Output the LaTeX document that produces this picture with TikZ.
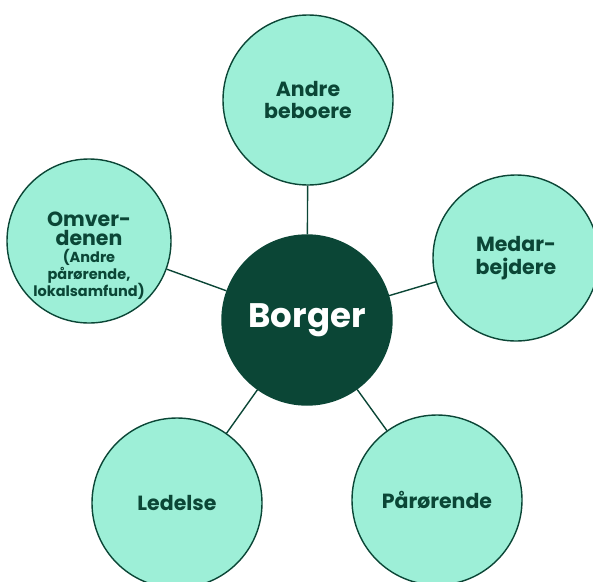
\documentclass[tikz,border=0pt]{standalone}
\usepackage{fontspec}
\setmainfont{Poppins}
\definecolor{mint}{HTML}{9DEFD7}
\definecolor{skov}{HTML}{0B4636}
\newcommand\lilleskrift{\fontsize{14.5}{15}\selectfont}
\tikzset{
  kreds/.style={circle, draw=skov, line width=1.4pt, fill=mint, minimum size=170pt,
    inner sep=0pt, align=center, text=skov, font=\bfseries\fontsize{20.5}{22.5}\selectfont},
  midte/.style={kreds, fill=skov, text=white, font=\bfseries\fontsize{34}{40}\selectfont},
  streg/.style={draw=skov, line width=1.4pt}
}
\begin{document}
\begin{tikzpicture}[x=1pt, y=-1pt]
  \useasboundingbox (0,0) rectangle (593,581);

  % Borgeren i midten
  \node[midte] (borger) at (307,320) {Borger};

  % Kredsene rundt om
  \node[kreds] (beboere) at (308,100) {Andre\\beboere};
  \node[kreds, minimum size=166pt] (medarb) at (516,258) {Medar-\\bejdere};
  \node[kreds, minimum size=164pt] (omverden) at (89,241) {};
  \node[kreds] (ledelse) at (177,503) {Ledelse};
  \node[kreds] (paaroerende) at (437,500) {Pårørende};

  % tekst i venstre kreds
  \node[align=center, text=skov, font=\bfseries\fontsize{20.5}{19}\selectfont, inner sep=0pt]
    (omvtekst) at (89,256) {Omver-\\denen\\[-2pt]{\lilleskrift (Andre}\\[-2pt]{\lilleskrift pårørende,}\\[-2pt]{\lilleskrift lokalsamfund)}};

  % forbindelser
  \draw[streg] (borger) -- (beboere);
  \draw[streg] (borger) -- (medarb);
  \draw[streg] (borger) -- (omverden);
  \draw[streg] (borger) -- (ledelse);
  \draw[streg] (borger) -- (paaroerende);
\end{tikzpicture}
\end{document}
